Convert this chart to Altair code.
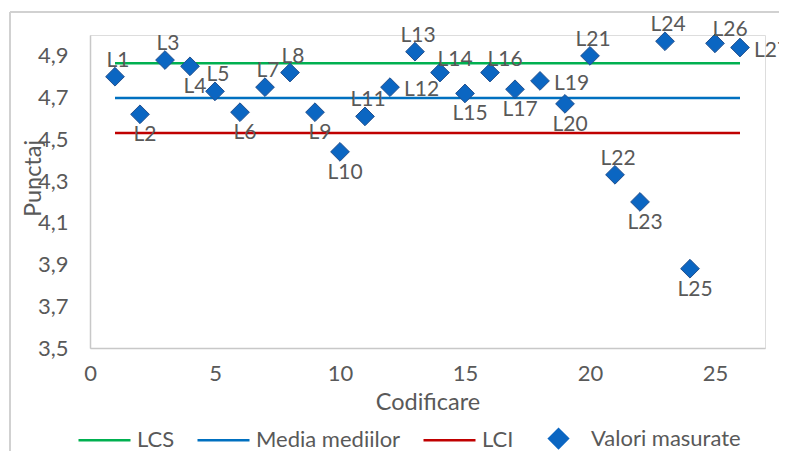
import altair as alt
import pandas as pd

# ---- data ----
codes = list(range(1, 27))
labels = ["L1", "L2", "L3", "L4", "L5", "L6", "L7", "L8", "L9", "L10", "L11", "L12",
          "L13", "L14", "L15", "L16", "L17", "L19", "L20", "L21", "L22", "L23", "L24",
          "L25", "L26", "L27"]
values = [4.80, 4.62, 4.88, 4.85, 4.73, 4.63, 4.75, 4.82, 4.63, 4.44, 4.61, 4.75,
          4.92, 4.82, 4.72, 4.82, 4.74, 4.78, 4.67, 4.90, 4.33, 4.20, 4.97,
          3.88, 4.96, 4.94]
label_pos = ["top", "bottom", "top", "bottom", "top", "bottom", "top", "top", "bottom",
             "bottom", "top", "right", "top", "topright", "bottom", "topright", "bottom",
             "right", "bottom", "top", "top", "bottom", "top", "bottom", "topright", "right"]

series_names = ["LCS", "Media mediilor", "LCI", "Valori masurate"]
series_colors = ["#00B050", "#0070C0", "#C00000", "#0B66C2"]
limit_names = ["LCS", "Media mediilor", "LCI"]
limit_values = [4.865, 4.698, 4.530]
line_start, line_end = 1, 26

x_ticks = [0, 5, 10, 15, 20, 25]
y_ticks = [3.5, 3.7, 3.9, 4.1, 4.3, 4.5, 4.7, 4.9]

# ---- tables ----
pts = pd.DataFrame({"x": codes, "y": values, "label": labels, "pos": label_pos,
                    "series": "Valori masurate"})
lines = pd.DataFrame(
    [{"series": n, "x": line_start, "y": v} for n, v in zip(limit_names, limit_values)]
    + [{"series": n, "x": line_end, "y": v} for n, v in zip(limit_names, limit_values)]
)

FONT = "Lato"
TXT = "#595959"
FS_LAB = 21
FS_TICK = 22
FS_TITLE = 23.5
AXIS_GRAY = "#C8C8C8"
SYM = 2704  # symbol size: legend slot 52px wide

line_path = "M-1,0L1,0"
diamond_path = "M-0.36,0L0,-0.36L0.36,0L0,0.36Z"

x_enc = alt.X("x:Q", scale=alt.Scale(domain=[0, 27], nice=False, zero=False),
              axis=alt.Axis(values=x_ticks, title="Codificare", grid=False, ticks=False,
                            labelFlush=False,
                            domainColor=AXIS_GRAY, domainWidth=1.5,
                            labelFontSize=FS_TICK, labelColor=TXT, labelFont=FONT,
                            labelPadding=15, titleFont=FONT, titleFontSize=FS_TITLE,
                            titleColor=TXT, titleFontWeight="normal",
                            titleY=54, titleBaseline="middle"))
y_enc = alt.Y("y:Q", scale=alt.Scale(domain=[3.5, 5.0], nice=False, zero=False),
              axis=alt.Axis(values=y_ticks, title="Punctaj", grid=False, ticks=False,
                            labelFlush=False,
                            domainColor=AXIS_GRAY, domainWidth=1.5,
                            labelExpr="replace(format(datum.value, '.1f'), '.', ',')",
                            labelFontSize=FS_TICK, labelColor=TXT, labelFont=FONT,
                            labelPadding=22, titleFont=FONT, titleFontSize=FS_TITLE,
                            titleColor=TXT, titleFontWeight="normal",
                            titleX=-57, titleY=143, titleAlign="center",
                            titleBaseline="middle", titleAngle=270))

color_scale = alt.Scale(domain=series_names, range=series_colors)
shape_scale = alt.Scale(domain=series_names,
                        range=[line_path, line_path, line_path, diamond_path])

legend = alt.Legend(
    title=None, orient="none", legendX=-13, legendY=376, direction="horizontal",
    columns=4, labelFont=FONT, labelFontSize=FS_TICK, labelColor=TXT,
    symbolSize=SYM, symbolStrokeWidth=2.5, labelOffset=5, columnPadding=17,
)

line_layer = alt.Chart(lines).mark_line(strokeWidth=2.5).encode(
    x=x_enc, y=y_enc, detail="series:N",
    color=alt.Color("series:N", scale=color_scale, legend=legend),
)

point_layer = alt.Chart(pts).mark_point(filled=True, size=SYM, stroke="#23508E",
                                        strokeWidth=1, opacity=1).encode(
    x=x_enc, y=y_enc,
    color=alt.Color("series:N", scale=color_scale, legend=legend),
    shape=alt.Shape("series:N", scale=shape_scale, legend=legend),
)

def text_layer(pos, dx, dy, align):
    return alt.Chart(pts).transform_filter(alt.datum.pos == pos).mark_text(
        font=FONT, fontSize=FS_LAB, color=TXT, dx=dx, dy=dy, align=align,
        baseline="middle").encode(x=x_enc, y=y_enc, text="label:N")

texts = [
    text_layer("top", 3, -16, "center"),
    text_layer("topright", 15, -13, "center"),
    text_layer("bottom", 5, 21, "center"),
    text_layer("right", 14, 3, "left"),
]

frame_v = alt.Chart(pts).mark_rule(color="#D0D0D0", strokeWidth=1.5).encode(
    x=alt.value(-80), y=alt.value(-23), y2=alt.value(500))
frame_h = alt.Chart(pts).mark_rule(color="#D0D0D0", strokeWidth=1.5).encode(
    x=alt.value(-80), x2=alt.value(800), y=alt.value(-23))

chart = alt.layer(frame_v, frame_h, line_layer, point_layer, *texts).properties(
    width=675, height=313,
    autosize=alt.AutoSizeParams(type="none"),
    padding={"left": 82, "top": 27, "right": 14, "bottom": 103},
).configure_view(stroke=None).configure(background="white")

chart.save("out.html", embed_options={"renderer": "svg", "actions": False})
